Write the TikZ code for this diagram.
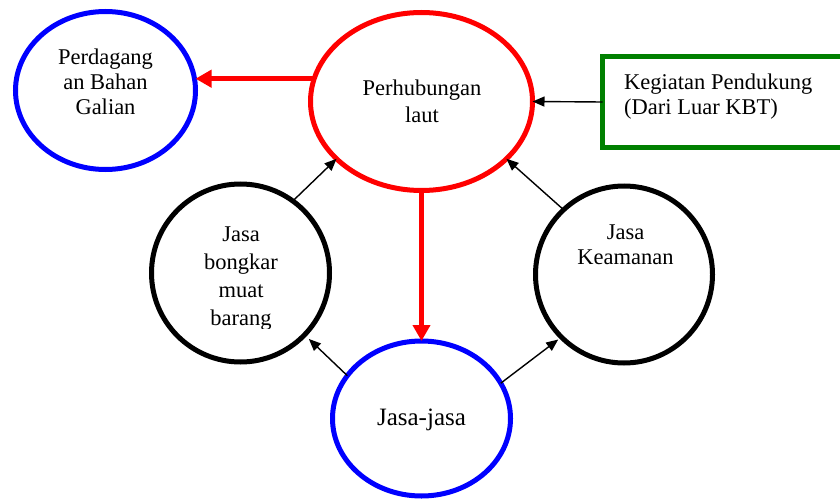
\documentclass[tikz,border=0pt]{standalone}
\usepackage{fontspec}
\setmainfont{Liberation Serif}
\usetikzlibrary{shapes.geometric,arrows.meta}
\definecolor{cblue}{RGB}{0,0,255}
\definecolor{cred}{RGB}{255,0,0}
\definecolor{cgreen}{RGB}{0,128,0}
\tikzset{
  shapeoval/.style={draw, ellipse, line width=5pt, inner sep=0pt, outer sep=0pt},
  greenbox/.style={draw=cgreen, rectangle, line width=5pt, inner sep=0pt, outer sep=0pt},
  lbl/.style={font=\fontsize{22.5}{27}\selectfont, align=center, inner sep=0pt, anchor=base},
  redarrow/.style={draw=cred, line width=5pt, -{Triangle[length=16pt,width=17pt]}},
  blackarrow/.style={draw=black, line width=1.4pt, -{Triangle[length=12pt,width=10pt]}},
}
\begin{document}
\begin{tikzpicture}[x=1pt,y=-1pt]
\useasboundingbox (0,0) rectangle (840,500);
\clip (0,0) rectangle (840,500);
% shapes
\node[shapeoval, draw=cblue, minimum width=180pt, minimum height=158pt] (B) at (105.5,90.5) {};
\node[shapeoval, draw=cred, minimum width=222pt, minimum height=178pt] (R) at (421.5,101.5) {};
\node[shapeoval, draw=black, minimum width=178pt, minimum height=178pt] (L) at (240.5,273) {};
\node[shapeoval, draw=black, minimum width=177pt, minimum height=177pt] (K) at (624,274.5) {};
\node[shapeoval, draw=cblue, minimum width=178pt, minimum height=155pt] (J) at (421.5,418.5) {};
\node[greenbox, minimum width=258pt, minimum height=91pt] (G) at (731.5,102) {};
% texts (anchor base = baseline of the last line)
\node[lbl, font=\fontsize{22.5}{25.5}\selectfont] (Bt) at (105.5,115) {Perdagang\\an Bahan\\Galian};
\node[lbl] (Rt) at (422,123) {Perhubungan\\laut};
\begin{scope}
\clip (140,170) rectangle (340,328.5);
\node[lbl, font=\fontsize{22.5}{27.7}\selectfont] (Lt) at (241,325) {Jasa\\bongkar\\muat\\barang};
\end{scope}
\node[lbl, font=\fontsize{22.5}{25}\selectfont] (Kt) at (625.5,264) {Jasa\\Keamanan};
\node[lbl, font=\fontsize{25}{30}\selectfont] (Jt) at (421.5,425) {Jasa-jasa};
\node[lbl, align=left, anchor=base west, font=\fontsize{22.5}{25}\selectfont] (Gt) at (624,115) {Kegiatan Pendukung\\(Dari Luar KBT)};
% connectors
\draw[redarrow] (R.168) -- (R.168 -| B.east);
\draw[redarrow] (R.south) -- (J.north);
\draw[blackarrow] (G.west) -- (R.east);
\draw[blackarrow] (L.54) -- (R.214);
\draw[blackarrow] (K.133.5) -- (R.326);
\draw[blackarrow, shorten >=6pt] (J.150.7) -- (L.316);
\draw[blackarrow, shorten >=4pt] (J.24.2) -- (K.225.6);
\end{tikzpicture}
\end{document}
